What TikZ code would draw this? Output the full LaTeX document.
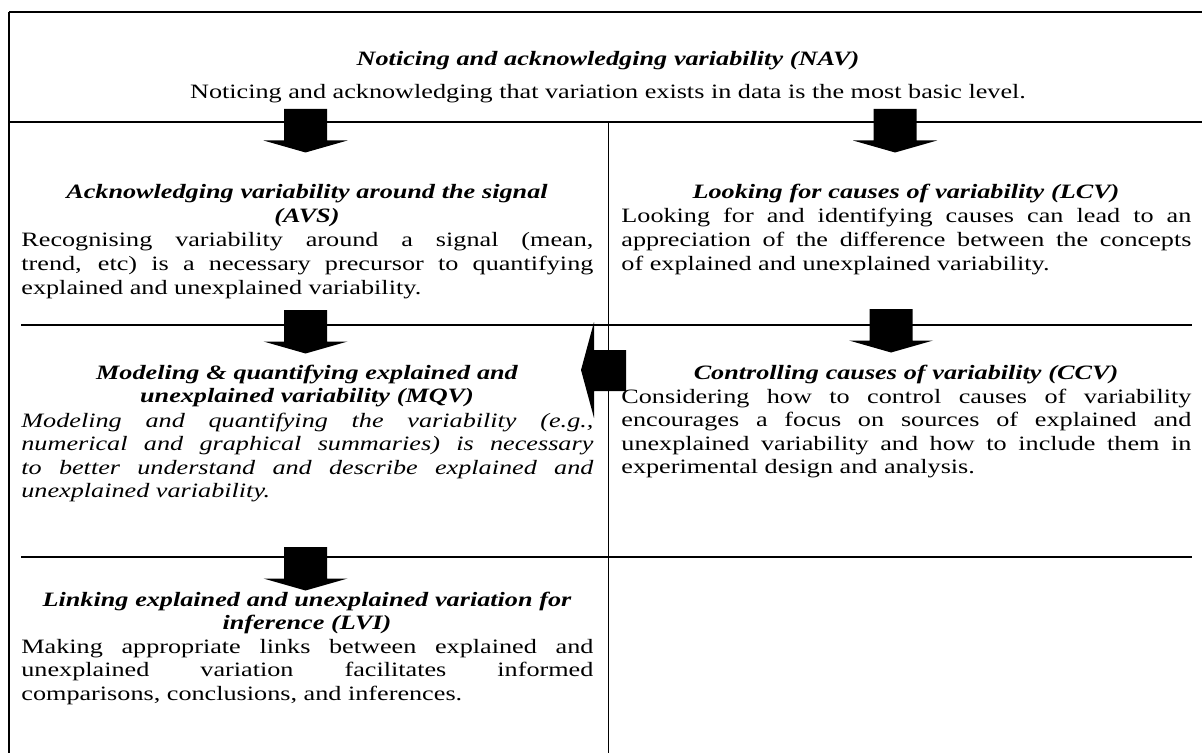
\documentclass[tikz,border=0pt]{standalone}
\usepackage{fontspec}
\setmainfont{Liberation Serif}[FakeStretch=1.284]
\tolerance=10000
\hyphenpenalty=10000
\newcommand\tfont{\fontsize{10.2pt}{11.8pt}\selectfont}
\tikzset{
  rule/.style={line width=0.7pt},
  vrule/.style={line width=0.9pt},
  ttl/.style={inner sep=0pt, anchor=base, align=center, text width=#1, font=\tfont\bfseries\itshape},
  bodytxt/.style={inner sep=0pt, anchor=base west, align=justify, text width=#1, font=\tfont},
  linetxt/.style={inner sep=0pt, anchor=base, font=\tfont},
  downarr/.pic={\fill (-21.5,0) -- (21.5,0) -- (21.5,31.5) -- (42,31.5) -- (0,43.5) -- (-42,31.5) -- (-21.5,31.5) -- cycle;},
}
\begin{document}
\begin{tikzpicture}[x=0.5pt,y=-0.5pt]
\useasboundingbox (0,0) rectangle (1202,753);
% frame and grid
\draw[rule] (9,12) -- (1202,12);
\draw[vrule] (9,12) -- (9,753);
\draw[rule] (9,122) -- (1202,122);
\draw[vrule] (608.5,122) -- (608.5,753);
\draw[rule] (21,325) -- (1192,325);
\draw[rule] (21,557) -- (1192,557);
% texts
\node[ttl=580pt] (navT) at (608,66) {Noticing and acknowledging variability (NAV)};
\node[linetxt] (navB) at (608,99) {Noticing and acknowledging that variation exists in data is the most basic level.};
\node[ttl=286pt] (avsT) at (307,199) {Acknowledging variability around the signal\\(AVS)};
\node[bodytxt=286pt] (avsB) at (21,247) {Recognising variability around a signal (mean,\linebreak trend, etc) is a necessary precursor to quantifying\linebreak explained and unexplained variability.};
\node[ttl=285pt] (lcvT) at (906,199) {Looking for causes of variability (LCV)};
\node[bodytxt=285pt] (lcvB) at (621,223) {Looking for and identifying causes can lead to an\linebreak appreciation of the difference between the concepts\linebreak of explained and unexplained variability.};
\node[ttl=286pt] (mqvT) at (307,379) {Modeling \& quantifying explained and\\unexplained variability (MQV)};
\node[bodytxt=286pt, font=\tfont\itshape] (mqvB) at (21,427) {Modeling and quantifying the variability (e.g.,\linebreak numerical and graphical summaries) is necessary\linebreak to better understand and describe explained and\linebreak unexplained variability.};
\node[ttl=285pt] (ccvT) at (906,379) {Controlling causes of variability (CCV)};
\node[bodytxt=285pt] (ccvB) at (621,403) {Considering how to control causes of variability\linebreak encourages a focus on sources of explained and\linebreak unexplained variability and how to include them in\linebreak experimental design and analysis.};
\node[ttl=286pt] (lviT) at (307,606) {Linking explained and unexplained variation for\\inference (LVI)};
\node[bodytxt=286pt] (lviB) at (21,653) {Making appropriate links between explained and\linebreak unexplained variation facilitates informed\linebreak comparisons, conclusions, and inferences.};
% block arrows
\coordinate (a1) at (305.5,109);
\coordinate (a2) at (895,109);
\coordinate (a3) at (305.5,310);
\coordinate (a4) at (891,309);
\coordinate (a5) at (305.5,547);
\pic at (a1) {downarr};
\pic at (a2) {downarr};
\pic at (a3) {downarr};
\pic at (a4) {downarr};
\pic at (a5) {downarr};
\fill (626,350) -- (594,350) -- (594,322) -- (581,370) -- (594,418) -- (594,391) -- (626,391) -- cycle;
\end{tikzpicture}
\end{document}
